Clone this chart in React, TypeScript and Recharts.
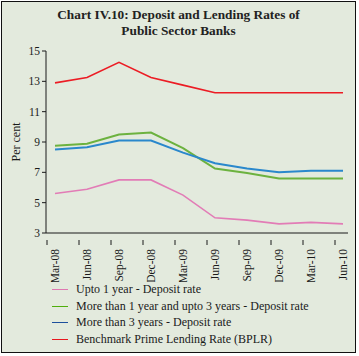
import { LineChart, Line, XAxis, YAxis } from 'recharts';

const quarters = ['Mar-08', 'Jun-08', 'Sep-08', 'Dec-08', 'Mar-09', 'Jun-09', 'Sep-09', 'Dec-09', 'Mar-10', 'Jun-10'];
const upto1Year = [5.6, 5.88, 6.5, 6.5, 5.5, 4.0, 3.85, 3.6, 3.7, 3.6];
const oneTo3Years = [8.75, 8.88, 9.5, 9.62, 8.6, 7.25, 6.95, 6.6, 6.6, 6.6];
const over3Years = [8.5, 8.65, 9.1, 9.1, 8.3, 7.6, 7.25, 7.0, 7.1, 7.1];
const bplr = [12.9, 13.25, 14.25, 13.25, 12.75, 12.25, 12.25, 12.25, 12.25, 12.25];
const yTicks = [3, 5, 7, 9, 11, 13, 15];

const series = [
  { key: 'upto1', name: 'Upto 1 year - Deposit rate', values: upto1Year, color: '#e27cb6', legendColor: '#df78b0', width: 1.6 },
  { key: 'oneTo3', name: 'More than 1 year and upto 3 years - Deposit rate', values: oneTo3Years, color: '#6cb23f', legendColor: '#4fae0c', width: 2 },
  { key: 'over3', name: 'More than 3 years - Deposit rate', values: over3Years, color: '#2a88cc', legendColor: '#1d4f9c', width: 2 },
  { key: 'bplr', name: 'Benchmark Prime Lending Rate (BPLR)', values: bplr, color: '#ec1c24', legendColor: '#e8181f', width: 1.6 },
];

const data = quarters.map((q, i) => {
  const row: any = { quarter: q };
  series.forEach((s) => { row[s.key] = s.values[i]; });
  return row;
});

const FONT = '"Liberation Serif", "Times New Roman", serif';

// Excel-style tick: mark sits a bit left of the rotated label
const XTick = ({ x, y, payload }: any) => (
  <g>
    <line x1={x - 8} y1={y - 1} x2={x - 8} y2={y + 4} stroke="#1a1a1a" strokeWidth={1} />
    <text
      x={x}
      y={y + 8}
      transform={`rotate(-90 ${x} ${y + 8})`}
      textAnchor="end"
      dominantBaseline="central"
      fontSize={11.5}
      fontFamily={FONT}
      fill="#1a1a1a"
    >
      {payload.value}
    </text>
  </g>
);

export default function App() {
  return (
    <div style={{ position: 'absolute', left: 0, top: 0, width: 359, height: 356, background: '#fff' }}>
      <div
        style={{
          position: 'absolute', left: 1, top: 1, width: 353, height: 350,
          border: '1.5px solid #111', background: '#e3eadd', fontFamily: FONT,
        }}
      >
        <div style={{ position: 'absolute', left: 0, top: 5, width: '100%', textAlign: 'center', fontWeight: 'bold', fontSize: 13.3, lineHeight: '16px', color: '#222' }}>
          Chart IV.10: Deposit and Lending Rates of<br />Public Sector Banks
        </div>

        <div style={{ position: 'absolute', left: 0, top: 0 }}>
          <LineChart width={352} height={280} data={data} margin={{ top: 49, right: 6, left: 0, bottom: 0 }}>
            <XAxis
              dataKey="quarter"
              padding={{ left: 9, right: 5 }}
              interval={0}
              height={49}
              tickLine={false}
              axisLine={{ stroke: '#1a1a1a' }}
              tick={<XTick />}
            />
            <YAxis
              width={44}
              domain={[3, 15]}
              ticks={yTicks}
              interval={0}
              tickSize={4}
              tickMargin={2}
              axisLine={{ stroke: '#1a1a1a' }}
              tickLine={{ stroke: '#1a1a1a' }}
              tick={{ fontSize: 11.5, fontFamily: FONT, fill: '#1a1a1a' }}
              label={{ value: 'Per cent', angle: -90, position: 'insideLeft', dx: 9, dy: 0, style: { fontSize: 12, fontFamily: FONT, fill: '#1a1a1a', textAnchor: 'middle' } }}
            />
            {series.map((s) => (
              <Line
                key={s.key}
                dataKey={s.key}
                name={s.name}
                type="linear"
                stroke={s.color}
                strokeWidth={s.width}
                dot={false}
                isAnimationActive={false}
              />
            ))}
          </LineChart>
        </div>

        <div style={{ position: 'absolute', left: 50, top: 279 }}>
          {series.map((s) => (
            <div key={s.key} style={{ display: 'flex', alignItems: 'center', height: 16.8, fontSize: 12, color: '#1a1a1a' }}>
              <span style={{ display: 'inline-block', width: 16, height: 0, borderTop: `1.5px solid ${s.legendColor}`, marginRight: 8 }} />
              {s.name}
            </div>
          ))}
        </div>
      </div>
    </div>
  );
}
